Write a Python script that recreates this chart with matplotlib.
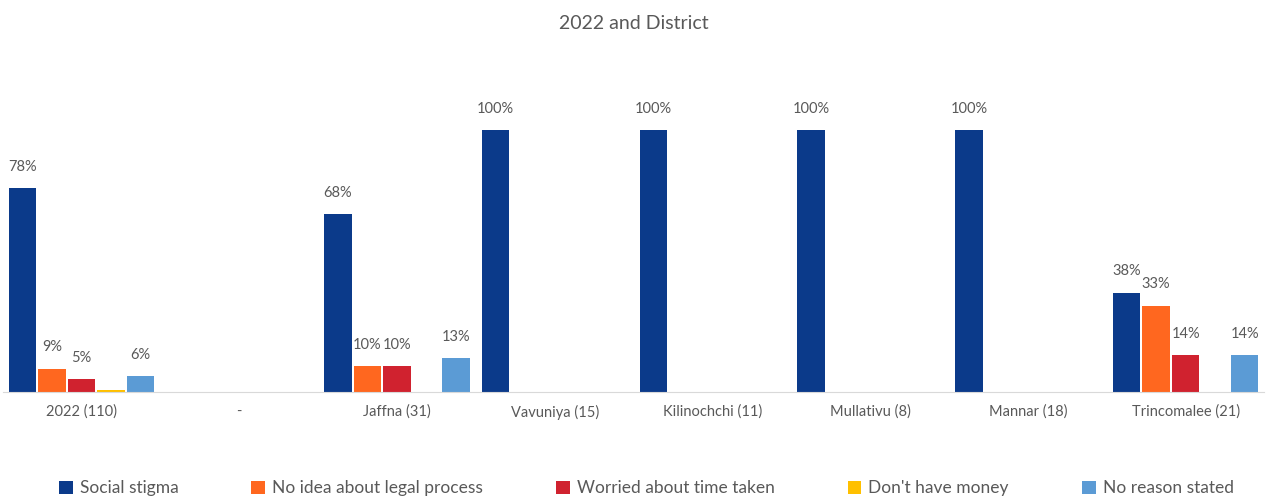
import numpy as np
import matplotlib.pyplot as plt

plt.rcParams['font.family'] = ['Lato', 'DejaVu Sans']

categories = ['2022 (110)', '-', 'Jaffna (31)', 'Vavuniya (15)', 'Kilinochchi (11)',
              'Mullativu (8)', 'Mannar (18)', 'Trincomalee (21)']
series = ['Social stigma', 'No idea about legal process', 'Worried about time taken',
          "Don't have money", 'No reason stated']
social_stigma = [78, 0, 68, 100, 100, 100, 100, 38]
no_idea = [9, 0, 10, 0, 0, 0, 0, 33]
worried = [5, 0, 10, 0, 0, 0, 0, 14]
no_money = [1, 0, 0, 0, 0, 0, 0, 0]
no_reason = [6, 0, 13, 0, 0, 0, 0, 14]
colors = ['#0B3A8A', '#FF671F', '#D0222F', '#FFC000', '#5B9BD5']

values = [social_stigma, no_idea, worried, no_money, no_reason]
show_label = [True, True, True, False, True]

fig = plt.figure(figsize=(12.67, 4.97), dpi=100)
ax = fig.add_axes([0.002, 0.211, 0.996, 0.632])

x = np.arange(len(categories))
w = 0.175
gap = 0.012
for i, (vals, c) in enumerate(zip(values, colors)):
    pos = x + (i - 2) * (w + gap)
    bars = ax.bar(pos, vals, width=w, color=c, label=series[i])
    if show_label[i]:
        for p, v in zip(pos, vals):
            if v > 0:
                ax.text(p, v + 5.5, f'{v}%', ha='center', va='bottom',
                        fontsize=10.5, color='#595959')

ax.set_xlim(-0.5, len(categories) - 0.5)
ax.set_ylim(0, 120)
ax.set_xticks(x)
ax.set_xticklabels(categories, fontsize=10.5, color='#595959')
ax.tick_params(axis='x', length=0, pad=9)
ax.set_yticks([])
for s in ['top', 'right', 'left']:
    ax.spines[s].set_visible(False)
ax.spines['bottom'].set_color('#D9D9D9')

fig.suptitle('2022 and District', y=0.97, fontsize=14, color='#595959')
fig.legend(loc='lower center', bbox_to_anchor=(0.51, -0.03), ncol=5, frameon=False,
           fontsize=12.5, handlelength=0.8, handleheight=0.8, handletextpad=0.4,
           columnspacing=4.2, labelcolor='#595959')

plt.savefig('out.png')
